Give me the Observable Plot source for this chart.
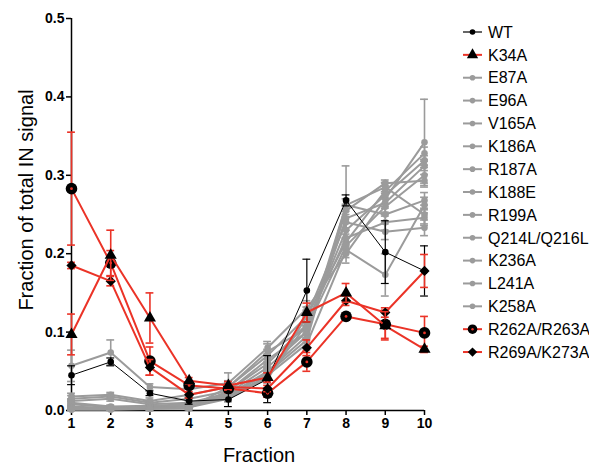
<!DOCTYPE html>
<html><head><meta charset="utf-8">
<script src="https://cdn.jsdelivr.net/npm/d3@7"></script>
<script src="https://cdn.jsdelivr.net/npm/@observablehq/plot@0.6"></script>
<style>
body{margin:0;background:#fff;}
svg{display:block;}
</style>
</head><body><div id="chart"></div>
<script>
const fractions = [1,2,3,4,5,6,7,8,9,10];
const yTicks = [0, 0.1, 0.2, 0.3, 0.4, 0.5];
const seriesNames = ["WT","K34A","E87A","E96A","V165A","K186A","R187A","K188E","R199A","Q214L/Q216L","K236A","L241A","K258A","R262A/R263A","R269A/K273A"];

const wt       = [0.045, 0.062, 0.022, 0.012, 0.014, 0.040, 0.153, 0.268, 0.202, 0.178];
const wtErr    = [0.012, 0.005, 0.003, 0.004, 0.009, 0.030, 0.040, 0.007, 0.040, 0.032];
const k34a     = [0.097, 0.198, 0.118, 0.038, 0.032, 0.042, 0.125, 0.150, 0.108, 0.078];
const k34aErr  = [0.026, 0.032, 0.032, 0.004, 0.005, 0.006, 0.012, 0.012, 0.018, 0.004];
const e87a     = [0.057, 0.074, 0.030, 0.027, 0.035, 0.080, 0.130, 0.200, 0.270, 0.342];
const e87aErr  = [0.020, 0.016, 0.004, 0.004, 0.013, 0.008, 0.010, 0.012, 0.012, 0.055];
const e96a     = [0.018, 0.020, 0.012, 0.020, 0.030, 0.070, 0.120, 0.215, 0.280, 0.328];
const e96aErr  = [0.004, 0.003, 0.004, 0.003, 0.008, 0.008, 0.012, 0.010, 0.010, 0.008];
const v165a    = [0.015, 0.018, 0.010, 0.015, 0.025, 0.060, 0.110, 0.230, 0.275, 0.319];
const v165aErr = [0.004, 0.003, 0.003, 0.003, 0.006, 0.006, 0.010, 0.010, 0.012, 0.006];
const k186a    = [0.012, 0.015, 0.008, 0.010, 0.022, 0.055, 0.100, 0.245, 0.265, 0.312];
const k186aErr = [0.003, 0.003, 0.003, 0.003, 0.005, 0.006, 0.008, 0.012, 0.012, 0.006];
const r187a    = [0.010, 0.005, 0.006, 0.008, 0.020, 0.050, 0.095, 0.255, 0.290, 0.293];
const r187aErr = [0.003, 0.002, 0.002, 0.002, 0.004, 0.005, 0.008, 0.008, 0.004, 0.008];
const k188e    = [0.008, 0.004, 0.005, 0.006, 0.018, 0.048, 0.090, 0.262, 0.250, 0.268];
const k188eErr = [0.003, 0.002, 0.002, 0.002, 0.004, 0.005, 0.008, 0.008, 0.010, 0.010];
const r199a    = [0.005, 0.003, 0.004, 0.005, 0.016, 0.045, 0.085, 0.205, 0.173, 0.262];
const r199aErr = [0.002, 0.002, 0.002, 0.002, 0.004, 0.005, 0.008, 0.010, 0.027, 0.010];
const q214l    = [0.004, 0.003, 0.004, 0.004, 0.015, 0.043, 0.110, 0.220, 0.240, 0.246];
const q214lErr = [0.002, 0.002, 0.002, 0.002, 0.004, 0.005, 0.008, 0.010, 0.010, 0.010];
const k236a    = [0.003, 0.002, 0.003, 0.004, 0.020, 0.040, 0.120, 0.240, 0.228, 0.233];
const k236aErr = [0.002, 0.001, 0.002, 0.002, 0.004, 0.005, 0.008, 0.010, 0.010, 0.010];
const l241a    = [0.002, 0.002, 0.003, 0.003, 0.025, 0.065, 0.100, 0.262, 0.285, 0.250];
const l241aErr = [0.002, 0.001, 0.002, 0.002, 0.005, 0.006, 0.008, 0.050, 0.006, 0.012];
const k258a    = [0.001, 0.001, 0.002, 0.003, 0.030, 0.075, 0.105, 0.210, 0.260, 0.300];
const k258aErr = [0.001, 0.001, 0.002, 0.002, 0.006, 0.010, 0.008, 0.010, 0.012, 0.010];
const r262a    = [0.283, 0.188, 0.063, 0.032, 0.028, 0.022, 0.062, 0.120, 0.110, 0.099];
const r262aErr = [0.072, 0.016, 0.018, 0.004, 0.005, 0.005, 0.012, 0.004, 0.018, 0.021];
const r269a    = [0.185, 0.165, 0.055, 0.020, 0.030, 0.028, 0.080, 0.140, 0.125, 0.178];
const r269aErr = [0.004, 0.006, 0.010, 0.004, 0.004, 0.004, 0.010, 0.006, 0.006, 0.021];

const seriesValues = [wt,k34a,e87a,e96a,v165a,k186a,r187a,k188e,r199a,q214l,k236a,l241a,k258a,r262a,r269a];
const seriesErrors = [wtErr,k34aErr,e87aErr,e96aErr,v165aErr,k186aErr,r187aErr,k188eErr,r199aErr,q214lErr,k236aErr,l241aErr,k258aErr,r262aErr,r269aErr];

const RED = "#eb3327", GREY = "#9b9b9b";
const kindOf = n => n === "WT" ? "wt" : n === "K34A" ? "tri" : n === "R262A/R263A" ? "bull" : n === "R269A/K273A" ? "dia" : "grey";
const styleOf = {
  wt:   {line: "#000", lw: 1, err: "#000", ew: 1.2, sym: "circle", fill: "#000", r: 3.3},
  grey: {line: GREY, lw: 2, err: GREY, ew: 1.6, sym: "circle", fill: GREY, r: 3.3},
  tri:  {line: RED, lw: 2, err: RED, ew: 1.6, sym: "triangle", fill: "#000", r: 4.5},
  bull: {line: RED, lw: 2, err: RED, ew: 1.6, sym: "circle", fill: "#000", r: 5.8},
  dia:  {line: RED, lw: 2, err: RED, ew: 1.6, sym: "diamond2", fill: "#000", r: 4.6}
};

const rows = [];
seriesNames.forEach((name, i) => {
  fractions.forEach((f, j) => {
    rows.push({series: name, kind: kindOf(name), x: f, y: seriesValues[i][j], e: seriesErrors[i][j]});
  });
});

const order = ["grey","wt","bull","dia","tri"];
const marks = [];
for (const k of order) {
  const st = styleOf[k];
  const d = rows.filter(r => r.kind === k);
  marks.push(Plot.line(d, {x: "x", y: "y", z: "series", stroke: st.line, strokeWidth: st.lw}));
  marks.push(Plot.ruleX(d, {x: "x", y1: r => r.y - r.e, y2: r => r.y + r.e, stroke: st.err, strokeWidth: st.ew}));
  marks.push(Plot.ruleY(d, {y: r => r.y + r.e, x1: r => r.x - 0.1, x2: r => r.x + 0.1, stroke: st.err, strokeWidth: st.ew}));
  marks.push(Plot.ruleY(d, {y: r => r.y - r.e, x1: r => r.x - 0.1, x2: r => r.x + 0.1, stroke: st.err, strokeWidth: st.ew}));
  marks.push(Plot.dot(d, {x: "x", y: "y", symbol: st.sym, r: st.r, fill: st.fill, stroke: "none"}));
  if (k === "bull") marks.push(Plot.dot(d, {x: "x", y: "y", r: 1.4, fill: RED}));
}

const chart = Plot.plot({
  width: 589, height: 466,
  marginLeft: 71, marginRight: 165, marginTop: 18, marginBottom: 56,
  style: {fontFamily: "'Liberation Sans', Arial, sans-serif", background: "#fff", color: "#000"},
  x: {domain: [1, 10]},
  y: {domain: [0, 0.5]},
  marks: [
    Plot.axisX({ticks: fractions, tickFormat: d => String(d), tickSize: 5, tickPadding: 3, strokeWidth: 1.5, label: null}),
    Plot.axisY({ticks: yTicks, tickFormat: d3.format(".1f"), tickSize: 5, tickPadding: 2, strokeWidth: 1.5, label: null}),
    Plot.ruleX([1], {y1: 0, y2: 0.5, stroke: "#000", strokeWidth: 1.5}),
    Plot.ruleY([0], {x1: 1, x2: 10, stroke: "#000", strokeWidth: 1.5}),
    ...marks
  ]
});

const svg = d3.select(chart);
svg.selectAll("text").style("font-size", "14px").style("font-weight", "bold");
svg.append("text").attr("x", 259).attr("y", 462).attr("text-anchor", "middle")
  .style("font-size", "20px").style("font-weight", "normal").attr("fill", "#000").text("Fraction");
svg.append("text").attr("transform", "translate(33,200) rotate(-90)").attr("text-anchor", "middle")
  .style("font-size", "20px").style("font-weight", "normal").attr("fill", "#000").text("Fraction of total IN signal");

const leg = svg.append("g");
seriesNames.forEach((name, i) => {
  const k = kindOf(name), st = styleOf[k];
  const y = 32 + i * 22.86;
  leg.append("line").attr("x1", 463).attr("x2", 482).attr("y1", y).attr("y2", y)
    .attr("stroke", st.line).attr("stroke-width", k === "wt" ? 1.2 : 2);
  const symType = st.sym === "triangle" ? d3.symbolTriangle : st.sym === "diamond2" ? d3.symbolDiamond2 : d3.symbolCircle;
  const rr = k === "wt" || k === "grey" ? 2.8 : k === "bull" ? 4.8 : 4.2;
  leg.append("path").attr("transform", `translate(472.5,${y})`)
    .attr("d", d3.symbol().type(symType).size(Math.PI * rr * rr)()).attr("fill", st.fill);
  if (k === "bull") leg.append("circle").attr("cx", 472.5).attr("cy", y).attr("r", 1.2).attr("fill", RED);
  leg.append("text").attr("x", 488).attr("y", y).attr("dy", "0.36em")
    .style("font-size", "16px").style("font-weight", "normal").attr("text-anchor", "start")
    .attr("fill", "#000").text(name);
});

document.getElementById("chart").appendChild(chart);
</script>
</body></html>
